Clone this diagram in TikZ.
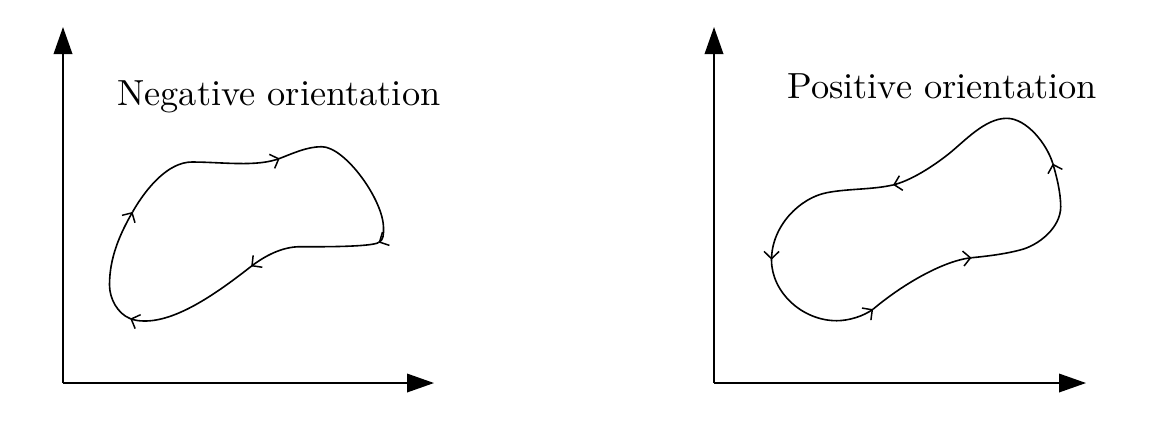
\documentclass[tikz,border=0pt]{standalone}
\usetikzlibrary{arrows.meta,decorations.markings}
\tikzset{
  axis/.style={line width=0.8pt,-{Triangle[length=13.5pt,width=9.3pt]}},
  barb/.tip={Straight Barb[length=3.6pt,width=7.5pt,line width=0.75pt]},
  seg/.style={line width=0.8pt,line join=round,postaction={decorate},
    decoration={markings,mark=at position 0.998 with {\arrow{barb}}}},
  label/.style={anchor=base west,inner sep=0pt}
}
\begin{document}
\begin{tikzpicture}[x=0.5pt,y=-0.5pt]
\useasboundingbox (0,0) rectangle (1176,420);
% ---------- left panel ----------
\coordinate (o1) at (63,383);
\coordinate (y1) at (63,27);
\coordinate (x1) at (434,383);
\draw[axis] (o1) -- (y1);
\draw[axis] (o1) -- (x1);
\node[label] (neg) at (117,105) {\scalebox{1.816}{Negative orientation}};
\coordinate (L0) at (109.5,285);
\coordinate (L1) at (132.7,211.7);
\coordinate (L2) at (192,162);
\coordinate (L3) at (280,158.3);
\coordinate (L4) at (321.7,146.7);
\coordinate (L5) at (383.5,228);
\coordinate (L6) at (378.3,242.7);
\coordinate (L7) at (300,246.7);
\coordinate (L8) at (251,266.5);
\coordinate (L9) at (145,321);
\coordinate (L10) at (130,318.5);
\draw[seg] (L10) .. controls (117.9,313.7) and (109.5,299) .. (L0)
               .. controls (109.5,257) and (120.2,233.5) .. (L1);
\draw[seg] (L1) .. controls (146.2,188.2) and (168,162) .. (L2)
               .. controls (222,162) and (256.8,167.3) .. (L3);
\draw[seg] (L3) .. controls (293,153.3) and (307,146.7) .. (L4)
               .. controls (345,146.7) and (383.5,200) .. (L5)
               .. controls (383.5,235) and (383.7,240.1) .. (L6);
\draw[seg] (L6) .. controls (369.3,247) and (320,246.8) .. (L7)
               .. controls (282,246.7) and (264.4,256.1) .. (L8);
\draw[seg] (L8) .. controls (223.4,287.9) and (180,321) .. (L9)
               .. controls (139,321) and (134.7,320.4) .. (L10);
% ---------- right panel ----------
\coordinate (o2) at (714,383);
\coordinate (y2) at (714,27);
\coordinate (x2) at (1086,383);
\draw[axis] (o2) -- (y2);
\draw[axis] (o2) -- (x2);
\node[label] (pos) at (787,98) {\scalebox{1.816}{Positive orientation}};
\coordinate (R0) at (1006.7,118.3);
\coordinate (R0a) at (948.3,154.2);
\coordinate (R1) at (892.7,185);
\coordinate (R1a) at (826.7,192.7);
\coordinate (R2) at (771.5,260);
\coordinate (R3) at (836.7,320.7);
\coordinate (R4) at (873.3,309);
\coordinate (R5) at (971.7,257.7);
\coordinate (R5a) at (1020,250);
\coordinate (R6) at (1060.7,206.7);
\coordinate (R7) at (1052.7,163.3);
\draw[seg] (R7) .. controls (1046.9,144.1) and (1026.7,118.3) .. (R0)
               .. controls (984.7,118.3) and (964,141.8) .. (R0a)
               .. controls (932.6,166.6) and (910.2,181) .. (R1);
\draw[seg] (R1) .. controls (871.7,189.8) and (848.2,188.5) .. (R1a)
               .. controls (799.7,198) and (771.5,226) .. (R2);
\draw[seg] (R2) .. controls (771.5,292) and (802,320.7) .. (R3)
               .. controls (848.7,320.7) and (863.7,316.2) .. (R4);
\draw[seg] (R4) .. controls (903,284) and (944,260.4) .. (R5);
\draw[seg] (R5) .. controls (987.7,256.1) and (1004.5,254.1) .. (R5a)
               .. controls (1038,245.7) and (1060.7,228) .. (R6)
               .. controls (1060.7,192) and (1056.2,174.8) .. (R7);
\end{tikzpicture}
\end{document}
